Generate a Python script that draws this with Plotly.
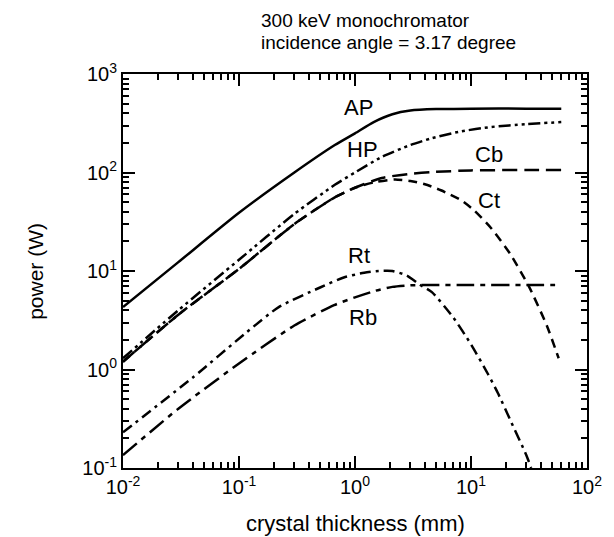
import math
import plotly.graph_objects as go

# ---- data ----
ap_x = [0.01, 0.03, 0.1, 0.3, 0.67, 1.0, 1.45, 2.1, 3.0, 5.0, 10, 30, 60]
ap_y = [4.3, 12.3, 39, 100, 190, 250, 325, 390, 425, 440, 445, 445, 445]

hp_x = [0.01, 0.03, 0.1, 0.3, 0.67, 1.0, 1.7, 3.0, 4.6, 8, 15, 30, 60]
hp_y = [1.3, 4.0, 13, 38, 75, 100, 144, 190, 223, 260, 290, 310, 325]

cb_x = [0.01, 0.03, 0.1, 0.3, 0.67, 1.0, 1.7, 3.0, 4.6, 10, 30, 60]
cb_y = [1.2, 3.6, 10.5, 30, 56, 70, 88, 97, 101, 105, 106, 106]

ct_x = [0.01, 0.03, 0.1, 0.3, 0.67, 1.0, 1.5, 2.2, 3.0, 4.0, 5.5, 8.3, 10.7, 15, 21.7, 31.7, 45, 57]
ct_y = [1.2, 3.6, 10.5, 30, 56, 70, 80, 85, 82, 76, 66, 52, 41, 27, 15, 6.9, 2.8, 1.3]

rt_x = [0.01, 0.04, 0.117, 0.22, 0.5, 0.8, 1.2, 1.6, 2.1, 2.8, 3.6, 4.6, 7, 10, 14, 17, 22, 30, 33]
rt_y = [0.23, 0.83, 2.4, 4.3, 6.8, 8.6, 9.6, 10, 10, 9, 7.3, 6.1, 3.4, 1.8, 0.9, 0.58, 0.3, 0.135, 0.1]

rb_x = [0.01, 0.03, 0.1, 0.3, 0.66, 1.0, 1.5, 2.1, 3.0, 4.0, 10, 30, 60]
rb_y = [0.135, 0.4, 1.15, 2.8, 4.5, 5.4, 6.3, 6.9, 7.15, 7.2, 7.2, 7.2, 7.2]

curve_names = ["AP", "HP", "Cb", "Ct", "Rt", "Rb"]
label_x = [1.08, 1.15, 14.2, 14.2, 1.08, 1.17]
label_y = [452, 170, 151, 52, 14.5, 3.4]

x_tickvals = [1e-2, 1e-1, 1e0, 1e1, 1e2]
x_ticktext = ["10<sup>-2</sup>", "10<sup>-1</sup>", "10<sup>0</sup>", "10<sup>1</sup>", "10<sup>2</sup>"]
y_tickvals = [1e-1, 1e0, 1e1, 1e2, 1e3]
y_ticktext = ["10<sup>-1</sup>", "10<sup>0</sup>", "10<sup>1</sup>", "10<sup>2</sup>", "10<sup>3</sup>"]

FONT = "Liberation Sans, Arial, Helvetica, sans-serif"

styles = {
    "AP": "solid",
    "HP": "12px,4px,3px,4px,3px,4px",
    "Cb": "15px,7px",
    "Ct": "9px,6px",
    "Rt": "11px,5px,3px,5px",
    "Rb": "18px,6px,5px,6px",
}
series = {
    "AP": (ap_x, ap_y), "HP": (hp_x, hp_y), "Cb": (cb_x, cb_y),
    "Ct": (ct_x, ct_y), "Rt": (rt_x, rt_y), "Rb": (rb_x, rb_y),
}

fig = go.Figure()
for name in curve_names:
    xs, ys = series[name]
    fig.add_trace(go.Scatter(x=xs, y=ys, mode="lines", name=name,
                             line=dict(color="black", width=2.5, dash=styles[name], shape="spline", smoothing=0.6),
                             showlegend=False))

for name, lx, ly in zip(curve_names, label_x, label_y):
    fig.add_annotation(x=math.log10(lx), y=math.log10(ly), text=name,
                       showarrow=False, font=dict(size=22, color="black", family=FONT))

minor_x = [k * 10.0 ** d for d in range(-2, 2) for k in range(2, 10)]
minor_y = [k * 10.0 ** d for d in range(-1, 3) for k in range(2, 10)]

axis_common = dict(type="log", showline=True, linecolor="black", linewidth=2, mirror="allticks",
                   ticks="inside", ticklen=12, tickwidth=2, tickcolor="black", showgrid=False, zeroline=False,
                   tickfont=dict(size=20, color="black", family=FONT), tickmode="array")

fig.update_xaxes(range=[-2, 2], tickvals=x_tickvals, ticktext=x_ticktext,
                 minor=dict(tickmode="array", tickvals=minor_x, ticks="inside", ticklen=6, tickwidth=1.5,
                            tickcolor="black", showgrid=False), **axis_common)
fig.update_yaxes(range=[-1, 3], tickvals=y_tickvals, ticktext=y_ticktext,
                 minor=dict(tickmode="array", tickvals=minor_y, ticks="inside", ticklen=6, tickwidth=1.5,
                            tickcolor="black", showgrid=False), **axis_common)

fig.add_annotation(xref="paper", yref="paper", x=0.294, y=1.137, xanchor="left", yanchor="middle",
                   text="300 keV monochromator", showarrow=False, font=dict(size=19, color="black", family=FONT))
fig.add_annotation(xref="paper", yref="paper", x=0.294, y=1.079, xanchor="left", yanchor="middle",
                   text="incidence angle = 3.17 degree", showarrow=False, font=dict(size=19, color="black", family=FONT))
fig.add_annotation(xref="paper", yref="paper", x=0.5, y=-0.14, xanchor="center", yanchor="middle",
                   text="crystal thickness (mm)", showarrow=False, font=dict(size=22, color="black", family=FONT))
fig.add_annotation(xref="paper", yref="paper", x=-0.19, y=0.5, xanchor="center", yanchor="middle", textangle=-90,
                   text="power (W)", showarrow=False, font=dict(size=21, color="black", family=FONT))

fig.update_layout(width=614, height=537, margin=dict(l=123, r=16, t=74, b=69),
                  paper_bgcolor="white", plot_bgcolor="white")

fig.write_html("out.html")
